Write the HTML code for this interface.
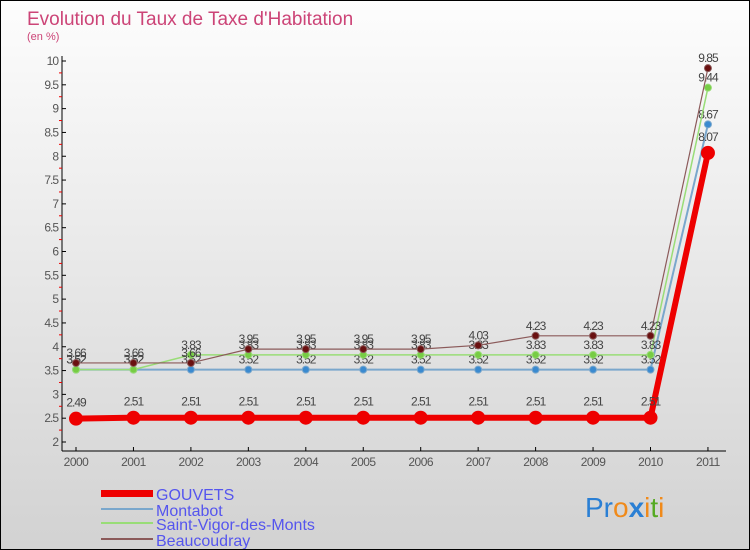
<!DOCTYPE html>
<html><head><meta charset="utf-8"><style>
body{margin:0}
#c{width:748px;height:548px;border:1px solid #000;background:linear-gradient(#fdfdfd,#d2d2d2);position:relative;font-family:"Liberation Sans",sans-serif;overflow:hidden}
</style></head><body>
<div id="c">
<svg width="748" height="548" id="svg">
<text x="26" y="24" font-size="19" fill="#cc4477">Evolution du Taux de Taxe d'Habitation</text>
<text x="26" y="39" font-size="11" fill="#cc4477">(en %)</text>
<g id="axes"></g><g id="series"></g>
<g>
<rect x="100" y="489" width="52" height="7" fill="#e00"/>
<text x="155" y="499" font-size="16" fill="#5555ee">GOUVETS</text>
<rect x="100" y="507" width="52" height="2" fill="#7aa7cc"/>
<text x="155" y="515" font-size="16" fill="#5555ee">Montabot</text>
<rect x="100" y="521" width="52" height="2" fill="#99dd77"/>
<text x="155" y="529" font-size="16" fill="#5555ee">Saint-Vigor-des-Monts</text>
<rect x="100" y="537" width="52" height="2" fill="#8b5a5a"/>
<text x="155" y="545" font-size="16" fill="#5555ee">Beaucoudray</text>
</g>
<text x="584" y="516" font-size="28"><tspan fill="#2a7fd4">Pr</tspan><tspan fill="#f08a1a">o</tspan><tspan fill="#2a7fd4" font-weight="bold">x</tspan><tspan fill="#f08a1a">i</tspan><tspan fill="#55aa22">t</tspan><tspan fill="#f08a1a">i</tspan></text>
</svg></div>
<script>
const years=["2000","2001","2002","2003","2004","2005","2006","2007","2008","2009","2010","2011"];
const yTicks=[2,2.5,3,3.5,4,4.5,5,5.5,6,6.5,7,7.5,8,8.5,9,9.5,10];
const gouvets=[2.49,2.51,2.51,2.51,2.51,2.51,2.51,2.51,2.51,2.51,2.51,8.07];
const montabot=[3.52,3.52,3.52,3.52,3.52,3.52,3.52,3.52,3.52,3.52,3.52,8.67];
const saintVigor=[3.52,3.52,3.83,3.83,3.83,3.83,3.83,3.83,3.83,3.83,3.83,9.44];
const beaucoudray=[3.66,3.66,3.66,3.95,3.95,3.95,3.95,4.03,4.23,4.23,4.23,9.85];
const NS="http://www.w3.org/2000/svg";
const X=i=>75+i*57.45;
const Y=v=>441-(v-2)*47.625;
function mk(tag,attrs,parent,txt){const e=document.createElementNS(NS,tag);for(const k in attrs)e.setAttribute(k,attrs[k]);if(txt!==undefined)e.textContent=txt;parent.appendChild(e);return e;}
const ax=document.getElementById('axes');
let l=mk('line',{x1:61,y1:55,x2:61,y2:450,stroke:'#000'},ax);

l=mk('line',{x1:61,y1:450,x2:725,y2:450,stroke:'#000'},ax);

yTicks.forEach((v,i)=>{
  mk('line',{x1:61,y1:Y(v),x2:65,y2:Y(v),stroke:'#000'},ax);
  if(i<yTicks.length-1) mk('line',{x1:58,y1:Y(v+0.25),x2:61,y2:Y(v+0.25),stroke:'#e00'},ax);
  const t=mk('text',{x:57,y:Y(v)+4,'font-size':12,fill:'#555','text-anchor':'end','letter-spacing':'-1'},ax,String(v));
  
});
years.forEach((y,i)=>{
  mk('line',{x1:X(i),y1:446,x2:X(i),y2:450,stroke:'#000'},ax);
  const t=mk('text',{x:X(i),y:465,'font-size':12,fill:'#555','text-anchor':'middle','letter-spacing':'-0.5'},ax,y);
  
});
const sg=document.getElementById('series');
function series(data,name,color,w,r,dot,labelDy){
  const g=mk('g',{},sg);
  
  
  const p=mk('polyline',{points:data.map((v,i)=>X(i)+','+Y(v)).join(' '),fill:'none',stroke:color,'stroke-width':w},g);
  
  
  data.forEach((v,i)=>{
    const c=mk('circle',{cx:X(i),cy:Y(v),r:r,fill:dot,stroke:color,'stroke-width':1},g);
    
    
    const t=mk('text',{x:X(i),y:Y(v)+labelDy,'font-size':12,fill:'#444','text-anchor':'middle','letter-spacing':'-1'},g,v.toFixed(2).replace(/0$/,'').replace(/\.$/,''));
    
    
  });
}
series(montabot,'montabot','#7aa7cc',2,3.5,'#3a8ad0',-6);
series(saintVigor,'saint-vigor','#99dd77',1.5,3.5,'#77cc44',-6);
series(beaucoudray,'beaucoudray','#8b5a5a',1.2,3.5,'#6a1010',-6);
series(gouvets,'gouvets','#ee0000',6,6.5,'#ee0000',-12);
</script>
</body></html>
